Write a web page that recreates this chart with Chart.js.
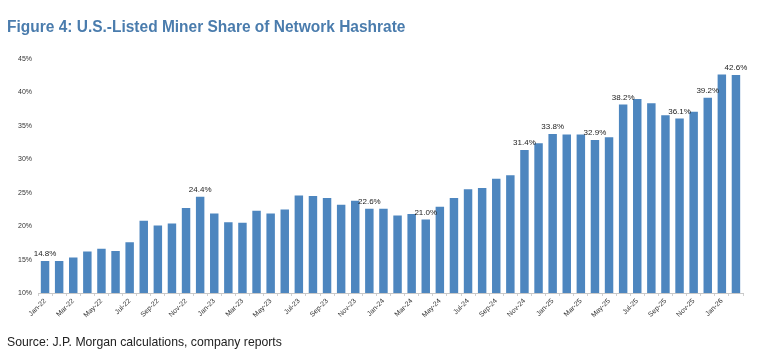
<!DOCTYPE html>
<html>
<head>
<meta charset="utf-8">
<script src="https://cdn.jsdelivr.net/npm/chart.js@4"></script>
<style>
  html, body { margin: 0; padding: 0; background: #fff; }
  #wrap { position: relative; width: 760px; height: 356px; overflow: hidden; }
  #title { position: absolute; left: 7px; top: 18px; font-family: "Liberation Sans", Arial, sans-serif; font-weight: bold; font-size: 16px; color: #4a7cad; white-space: nowrap; transform: scaleX(0.968); transform-origin: left top; }
  #source { position: absolute; left: 7px; top: 334px; font-family: "Liberation Sans", Arial, sans-serif; font-size: 13px; color: #222; white-space: nowrap; transform: scaleX(0.94); transform-origin: left top; }
  #cv { position: absolute; left: 0; top: 0; }
</style>
</head>
<body>
<div id="wrap">
  <canvas id="cv" width="760" height="356"></canvas>
  <div id="title">Figure 4: U.S.-Listed Miner Share of Network Hashrate</div>
  <div id="source">Source: J.P. Morgan calculations, company reports</div>
</div>
<script>
const months = [
  "Jan-22","Feb-22","Mar-22","Apr-22","May-22","Jun-22","Jul-22","Aug-22","Sep-22","Oct-22","Nov-22","Dec-22",
  "Jan-23","Feb-23","Mar-23","Apr-23","May-23","Jun-23","Jul-23","Aug-23","Sep-23","Oct-23","Nov-23","Dec-23",
  "Jan-24","Feb-24","Mar-24","Apr-24","May-24","Jun-24","Jul-24","Aug-24","Sep-24","Oct-24","Nov-24","Dec-24",
  "Jan-25","Feb-25","Mar-25","Apr-25","May-25","Jun-25","Jul-25","Aug-25","Sep-25","Oct-25","Nov-25","Dec-25",
  "Jan-26","Feb-26"
];
const sharePct = [
  14.8, 14.8, 15.3, 16.2, 16.6, 16.3, 17.6, 20.8, 20.1, 20.4, 22.7, 24.4,
  21.9, 20.6, 20.5, 22.3, 21.9, 22.5, 24.6, 24.5, 24.2, 23.2, 23.8, 22.6,
  22.6, 21.6, 21.8, 21.0, 22.9, 24.2, 25.5, 25.7, 27.1, 27.6, 31.4, 32.4,
  33.8, 33.7, 33.7, 32.9, 33.3, 38.2, 39.0, 38.4, 36.6, 36.1, 37.1, 39.2,
  42.7, 42.6
];
const labeledIdx = [0, 11, 23, 27, 34, 36, 39, 41, 45, 47, 49];
const yTicks = [10, 15, 20, 25, 30, 35, 40, 45];

const FONT = '"Liberation Sans", Arial, sans-serif';

const valueLabels = {
  id: 'valueLabels',
  afterDatasetsDraw(chart) {
    const ctx = chart.ctx;
    const meta = chart.getDatasetMeta(0);
    ctx.save();
    ctx.font = '8px ' + FONT;
    ctx.fillStyle = '#222';
    ctx.textAlign = 'center';
    ctx.textBaseline = 'bottom';
    labeledIdx.forEach(i => {
      const el = meta.data[i];
      ctx.fillText(sharePct[i].toFixed(1) + '%', el.x, el.y - 3);
    });
    ctx.restore();
  }
};

new Chart(document.getElementById('cv'), {
  type: 'bar',
  data: {
    labels: months,
    datasets: [{
      data: sharePct,
      backgroundColor: '#4d86bf',
      borderWidth: 0,
      categoryPercentage: 1.0,
      barPercentage: 0.6
    }]
  },
  options: {
    responsive: false,
    animation: false,
    layout: { padding: { left: 0, right: 17, top: 59, bottom: 0 } },
    plugins: { legend: { display: false }, tooltip: { enabled: false }, title: { display: false } },
    scales: {
      x: {
        grid: { display: true, drawOnChartArea: false, drawTicks: true, tickLength: 3, color: '#d0d0d0' },
        border: { display: true, color: '#c8c8c8' },
        ticks: {
          autoSkip: false,
          minRotation: 45,
          maxRotation: 45,
          padding: 1,
          color: '#333',
          font: { family: FONT, size: 7 },
          callback: function(v, i) { return i % 2 === 0 ? months[i] : ''; }
        },
        afterFit(scale) { scale.height = 63; }
      },
      y: {
        min: 10,
        max: 45,
        grid: { display: false, drawTicks: false },
        border: { display: false },
        afterBuildTicks(scale) { scale.ticks = yTicks.map(v => ({ value: v })); },
        ticks: {
          padding: 6,
          color: '#333',
          font: { family: FONT, size: 7 },
          callback: v => v + '%'
        },
        afterFit(scale) { scale.width = 38; }
      }
    }
  },
  plugins: [valueLabels]
});
</script>
</body>
</html>
